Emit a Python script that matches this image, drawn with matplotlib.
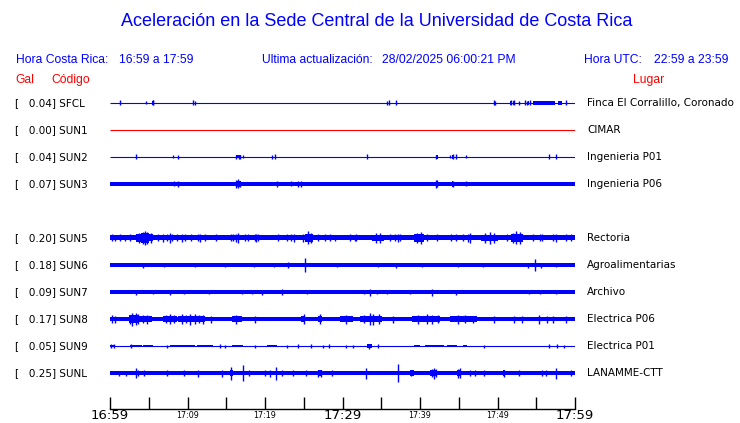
"""
Acceleration traces recorded at the UCR main campus (one hour window).
"""

import matplotlib
matplotlib.use("Agg")
import matplotlib.pyplot as plt

# ============================== data =========================================

CODES = ["SFCL", "SUN1", "SUN2", "SUN3", "SUN5", "SUN6", "SUN7", "SUN8", "SUN9", "SUNL"]
GAL = [0.04, 0.00, 0.04, 0.07, 0.20, 0.18, 0.09, 0.17, 0.05, 0.25]
PLACES = ["Finca El Corralillo, Coronado", "CIMAR", "Ingenieria P01", "Ingenieria P06",
          "Rectoria", "Agroalimentarias", "Archivo", "Electrica P06", "Electrica P01",
          "LANAMME-CTT"]
ROWS = [0, 1, 2, 3, 5, 6, 7, 8, 9, 10]   # SUN4 row is empty
ACTIVE = [True, False, True, True, True, True, True, True, True, True]

# half-width of the background noise band, in pixels
BASE_HALF = [0, 0, 0, 1.7, 2.5, 1.6, 1.6, 2.2, 0, 2.0]

# louder stretches: (start minute, end minute, half-width px)
SFCL_BURSTS = [(5.45, 5.65, 2.0), (10.65, 10.8, 2.0), (36.85, 37.0, 2.0), (51.65, 51.8, 2.0),
               (52.0, 52.2, 2.0), (53.5, 53.7, 2.0), (53.9, 54.1, 2.0), (54.6, 57.4, 1.8),
               (57.8, 58.3, 1.8)]
SUN2_BURSTS = [(16.2, 16.9, 1.5), (42.0, 42.3, 1.8), (44.1, 44.3, 1.6)]
SUN3_BURSTS = [(16.2, 16.9, 2.6), (42.0, 42.3, 2.8), (44.1, 44.3, 2.6), (24.5, 24.8, 2.3)]
SUN5_BURSTS = [(3.4, 4.0, 3.8), (4.0, 5.0, 4.5), (5.0, 5.5, 3.5), (25.2, 26.2, 4.0),
               (33.8, 35.4, 3.3), (39.2, 40.5, 4.0), (47.9, 50.1, 3.3), (51.8, 53.3, 4.0)]
SUN6_BURSTS = [(24.9, 25.4, 2.2), (54.5, 55.1, 2.2)]
SUN7_BURSTS = [(33.4, 33.8, 2.2), (41.3, 41.7, 2.2)]
SUN8_BURSTS = [(2.4, 3.7, 3.8), (3.7, 5.4, 3.0), (6.9, 8.6, 3.0), (8.8, 12.3, 3.4),
               (15.7, 17.0, 3.0), (24.7, 25.1, 3.4), (26.9, 27.3, 3.4), (29.7, 31.4, 2.8),
               (32.3, 35.1, 3.2), (39.0, 42.6, 3.0), (43.9, 47.3, 2.7)]
SUN9_BURSTS = [(0, 0.6, 1.0), (2.6, 4.1, 1.4), (4.3, 5.6, 1.3), (7.7, 11.0, 1.4), (11.2, 13.3, 1.1),
               (15.7, 17.2, 1.4), (20.2, 21.5, 1.1), (33.1, 33.8, 1.7), (39.2, 40.0, 1.0),
               (40.7, 43.1, 1.4), (43.5, 44.8, 1.3), (45.6, 46.0, 1.0)]
SUNL_BURSTS = [(15.5, 15.9, 3.2), (17.1, 17.3, 3.2), (26.9, 27.3, 3.0), (38.7, 39.2, 2.8),
               (41.3, 42.1, 3.2), (44.8, 45.3, 3.0), (50.7, 51.0, 2.8)]

# single peaks: (minute, half-height px)
SFCL_PEAKS = [(1.3, 2.5), (4.7, 1.5), (5.5, 2.5), (5.6, 2.5), (10.7, 2.5), (11.0, 2.0),
              (35.7, 2.0), (36.0, 2.5), (36.9, 2.5), (49.5, 2.5), (49.7, 2.0), (51.7, 2.5),
              (52.1, 2.5), (52.8, 2.0), (53.5, 2.5), (53.8, 2.0), (54.2, 2.5), (58.8, 2.5)]
SUN2_PEAKS = [(3.3, 2.5), (8.1, 1.5), (8.8, 2.0), (16.3, 2.2), (16.6, 2.2), (16.8, 2.2),
              (17.2, 1.5), (20.9, 2.0), (21.3, 2.5), (33.1, 2.5), (42.1, 2.2), (43.9, 1.5),
              (44.2, 2.5), (44.7, 2.5), (45.9, 1.5), (56.6, 2.5), (57.6, 2.5)]
SUN3_PEAKS = [(8.3, 2.5), (8.8, 3.0), (16.2, 4.0), (16.5, 4.5), (16.8, 3.0), (21.5, 3.0),
              (23.3, 2.5), (24.3, 3.0), (24.7, 3.0), (42.0, 4.0), (42.2, 3.5), (44.2, 3.0),
              (45.9, 2.5)]
SUN5_PEAKS = [(0.3, 3.5), (0.65, 3.2), (1.3, 3.5), (1.9, 3.2), (2.6, 3.5), (3.7, 5.5), (4.2, 6.0),
              (4.5, 7.0), (4.8, 6.0), (5.3, 5.0), (6.2, 3.5), (6.9, 3.8), (7.3, 3.5), (7.7, 4.5),
              (8.0, 3.5), (8.6, 3.5), (9.3, 4.0), (9.7, 3.5), (10.5, 3.5), (11.4, 3.5), (11.6, 4.0),
              (12.3, 3.5), (13.7, 3.5), (15.6, 3.5), (15.9, 3.5), (16.3, 4.0), (16.5, 4.5),
              (17.4, 3.5), (17.8, 3.5), (18.7, 3.5), (18.9, 4.0), (19.1, 3.5), (21.7, 3.5),
              (22.8, 3.5), (23.4, 3.5), (23.8, 4.0), (24.9, 4.0), (25.6, 6.5), (25.9, 5.5),
              (26.9, 3.5), (27.7, 3.5), (28.4, 3.5), (29.0, 3.2), (31.0, 3.5), (31.6, 3.2),
              (31.8, 3.5), (34.3, 5.0), (34.8, 4.5), (36.1, 3.5), (36.8, 3.5), (37.1, 4.0),
              (37.4, 3.5), (39.6, 5.5), (40.1, 6.0), (40.9, 3.5), (42.2, 3.5), (44.0, 3.5),
              (44.7, 3.5), (45.6, 3.5), (46.2, 4.0), (46.4, 4.5), (48.4, 5.0), (49.0, 6.0),
              (49.6, 5.0), (51.2, 3.5), (52.0, 4.5), (52.4, 6.5), (52.9, 6.0), (54.6, 3.5),
              (55.5, 3.5), (55.8, 3.5), (57.2, 3.5), (57.5, 4.0), (58.9, 3.5), (59.5, 3.5)]
SUN6_PEAKS = [(4.2, 2.5), (7.0, 2.2), (11.0, 2.0), (14.8, 2.0), (18.6, 2.0), (21.1, 2.2),
              (23.0, 3.0), (25.1, 7.0), (29.3, 2.0), (34.6, 2.0), (36.9, 2.5), (40.3, 2.0),
              (44.9, 2.0), (48.1, 2.2), (53.9, 2.5), (54.8, 6.0), (55.6, 2.5), (57.5, 2.0)]
SUN7_PEAKS = [(3.3, 2.5), (5.6, 2.2), (7.8, 2.5), (9.5, 2.2), (12.8, 2.2), (17.0, 2.2),
              (18.3, 2.2), (19.6, 2.5), (22.2, 3.0), (25.4, 2.2), (32.8, 2.2), (33.6, 3.5),
              (34.5, 2.2), (35.8, 2.2), (38.7, 2.2), (41.5, 3.5), (44.6, 2.5), (54.0, 2.0),
              (55.5, 2.2), (57.6, 2.0)]
SUN8_PEAKS = [(0.3, 4.0), (0.7, 3.5), (2.6, 4.5), (2.9, 6.5), (3.3, 6.0), (3.6, 5.0), (4.2, 4.0),
              (4.8, 4.5), (7.2, 4.0), (7.7, 5.0), (8.2, 4.0), (9.3, 5.0), (9.8, 4.0), (10.3, 5.5),
              (11.0, 5.0), (11.5, 4.0), (12.0, 4.5), (13.0, 3.5), (16.3, 4.5), (18.7, 3.5),
              (25.0, 5.0), (27.1, 5.0), (30.5, 4.5), (32.8, 4.0), (33.5, 6.0), (33.9, 5.5),
              (34.7, 5.0), (36.5, 3.5), (39.8, 4.5), (40.9, 5.0), (41.5, 4.5), (42.3, 4.0),
              (44.9, 4.5), (45.8, 4.0), (46.9, 3.5), (49.5, 3.5), (52.1, 3.5), (53.2, 3.5),
              (55.3, 4.5), (56.4, 3.5), (57.2, 3.5), (58.9, 3.5)]
SUN9_PEAKS = [(0.1, 2.0), (0.5, 2.0), (2.7, 2.0), (7.3, 1.5), (14.2, 1.8), (14.8, 1.5), (18.7, 1.5),
              (22.9, 1.5), (24.2, 2.0), (25.9, 1.8), (27.5, 1.5), (28.3, 1.8), (30.5, 1.5),
              (31.4, 1.5), (33.4, 2.5), (34.6, 2.0), (48.2, 1.5), (56.6, 2.0), (57.7, 2.0),
              (58.6, 1.5)]
SUNL_PEAKS = [(1.1, 2.5), (2.1, 2.5), (3.3, 5.0), (3.6, 3.0), (4.4, 3.0), (7.3, 3.0), (9.5, 2.8),
              (11.3, 3.5), (14.4, 3.5), (15.6, 6.5), (17.2, 8.0), (17.9, 3.0), (20.0, 3.0),
              (20.6, 3.5), (21.4, 6.5), (22.2, 3.0), (23.6, 3.2), (25.3, 3.0), (26.9, 3.5),
              (27.2, 3.5), (28.6, 3.0), (33.0, 5.5), (37.2, 9.0), (38.9, 3.0), (41.5, 4.0),
              (41.8, 5.5), (42.1, 4.0), (44.9, 4.5), (45.2, 5.0), (46.5, 3.0), (47.1, 3.0),
              (48.2, 3.0), (50.8, 3.5), (52.8, 3.0), (55.7, 3.0), (56.2, 3.0), (57.5, 5.5),
              (59.5, 3.0)]

BURSTS = [SFCL_BURSTS, [], SUN2_BURSTS, SUN3_BURSTS, SUN5_BURSTS, SUN6_BURSTS, SUN7_BURSTS,
          SUN8_BURSTS, SUN9_BURSTS, SUNL_BURSTS]
PEAKS = [SFCL_PEAKS, [], SUN2_PEAKS, SUN3_PEAKS, SUN5_PEAKS, SUN6_PEAKS, SUN7_PEAKS,
         SUN8_PEAKS, SUN9_PEAKS, SUNL_PEAKS]

TICK_MINUTES = list(range(0, 61, 5))
TICK_LABELS = ["16:59", "", "17:09", "", "17:19", "", "17:29", "", "17:39", "", "17:49", "", "17:59"]

# ============================== layout =======================================

W, H = 740, 423
BLUE = "#0000ff"
RED = "#ff0000"
ROW_PX = 27.0        # pixels between rows
HEAD_FONT = "Liberation Sans"


def fx(px):
    return px / W


def fy(px):
    return 1 - px / H


def main():
    fig = plt.figure(figsize=(W / 100, H / 100), dpi=100)

    # traces axes: rows 0..10, 27 px apart, first row centred on y=103
    ax = fig.add_axes([fx(110), fy(103 + 10.5 * ROW_PX), fx(465), 11 * ROW_PX / H])
    ax.set_xlim(0, 60)
    ax.set_ylim(10.5, -0.5)
    ax.axis("off")

    for i, code in enumerate(CODES):
        r = ROWS[i]
        y_pix = 103 + r * ROW_PX
        color = BLUE if ACTIVE[i] else RED

        ax.plot([0, 60], [r, r], color=color, lw=0.8, solid_capstyle="butt")
        b = BASE_HALF[i] / ROW_PX
        if b > 0:
            ax.fill_between([0, 60], r - b, r + b, color=color, lw=0)
        for s, e, h in BURSTS[i]:
            ax.fill_between([s, e], r - h / ROW_PX, r + h / ROW_PX, color=color, lw=0)
        if PEAKS[i]:
            t = [p[0] for p in PEAKS[i]]
            h = [p[1] / ROW_PX for p in PEAKS[i]]
            ax.vlines(t, [r - v for v in h], [r + v for v in h], color=color, lw=1.0)

        fig.text(fx(15), fy(y_pix), "[   {0:.2f}] {1}".format(GAL[i], code),
                 fontsize=7.5, ha="left", va="center", family="DejaVu Sans")
        fig.text(fx(587), fy(y_pix), PLACES[i],
                 fontsize=7.5, ha="left", va="center", family="DejaVu Sans")

    # time axis
    axt = fig.add_axes([fx(110), fy(409), fx(465), 20 / H])
    axt.set_xlim(0, 60)
    axt.set_ylim(0, 1)
    axt.patch.set_visible(False)
    for side in ["top", "left", "right"]:
        axt.spines[side].set_visible(False)
    axt.spines["bottom"].set_linewidth(1.0)
    axt.set_yticks([])
    axt.set_xticks(TICK_MINUTES)
    axt.set_xticklabels(TICK_LABELS)
    axt.tick_params(axis="x", direction="in", length=9, width=1.0, pad=0.3)
    for k, lab in enumerate(axt.get_xticklabels()):
        if k % 6 == 0:
            lab.set_fontsize(9.5)
        else:
            lab.set_fontsize(5.8)
            lab.set_y(-0.06)

    # header
    fig.text(fx(377), fy(22), "Aceleración en la Sede Central de la Universidad de Costa Rica",
             fontsize=13, color=BLUE, ha="center", va="center", family=HEAD_FONT)
    head = [(15.5, "Hora Costa Rica:"), (119.5, "16:59 a 17:59"),
            (262, "Ultima actualización:"), (382, "28/02/2025 06:00:21 PM"),
            (583.5, "Hora UTC:"), (654, "22:59 a 23:59")]
    for x, s in head:
        fig.text(fx(x), fy(60), s, fontsize=8.7, color=BLUE, ha="left", va="center", family=HEAD_FONT)
    for x, s in [(15.5, "Gal"), (51, "Código"), (633, "Lugar")]:
        fig.text(fx(x), fy(80), s, fontsize=8.7, color=RED, ha="left", va="center", family=HEAD_FONT)

    fig.savefig("out.png", dpi=100)


if __name__ == "__main__":
    main()
